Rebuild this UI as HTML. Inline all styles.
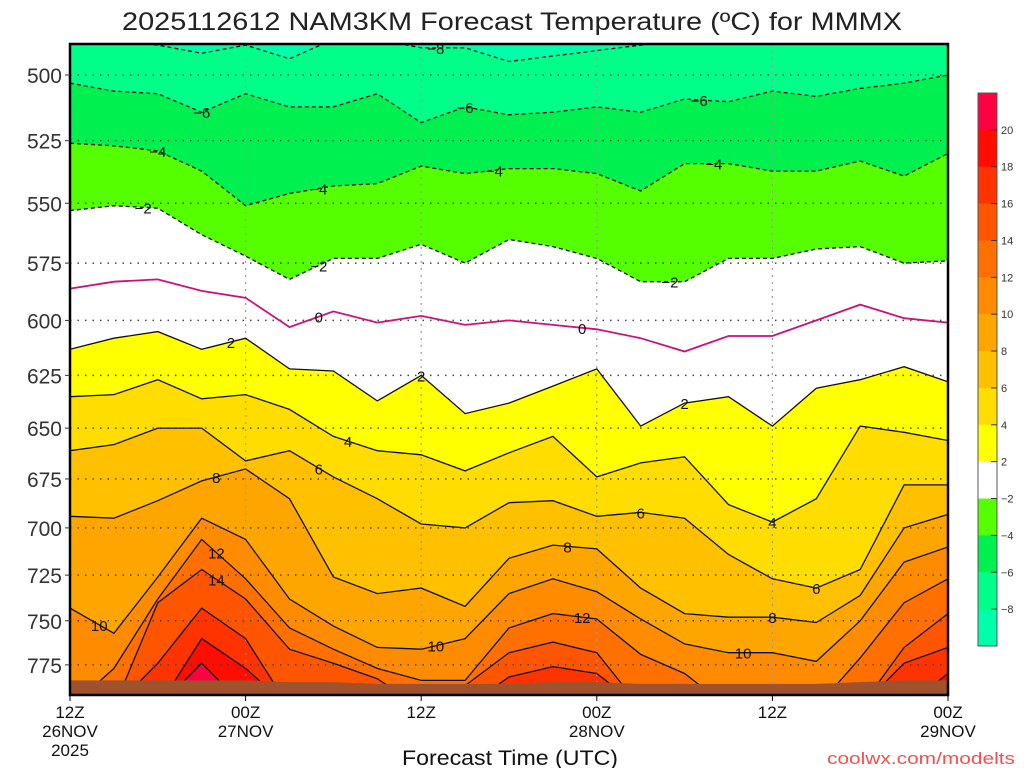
<!DOCTYPE html>
<html><head><meta charset="utf-8"><title>NAM3KM Forecast Temperature MMMX</title>
<style>
html,body{margin:0;padding:0;background:#fff;}
svg{display:block;font-family:"Liberation Sans",sans-serif;}
</style></head>
<body>
<svg id="chart" width="1024" height="768" viewBox="0 0 1024 768" xmlns="http://www.w3.org/2000/svg">
<defs><clipPath id="plotclip"><rect x="70" y="44" width="878" height="651"/></clipPath></defs>
<text x="512" y="30" text-anchor="middle" font-size="25" fill="#222" textLength="780" lengthAdjust="spacingAndGlyphs">2025112612 NAM3KM Forecast Temperature (ºC) for MMMX</text>
<g id="plot" clip-path="url(#plotclip)"></g>
<g id="overlay"></g>
<g id="yaxis"></g>
<g id="xaxis"></g>
<text x="510" y="765" text-anchor="middle" font-size="21" fill="#111" textLength="216" lengthAdjust="spacingAndGlyphs">Forecast Time (UTC)</text>
<text x="1015" y="764" text-anchor="end" font-size="17" fill="#f05050" textLength="188" lengthAdjust="spacingAndGlyphs">coolwx.com/modelts</text>
<g id="colorbar"></g>
</svg>
<script>
// ---- data ----
const hours = [0,3,6,9,12,15,18,21,24,27,30,33,36,39,42,45,48,51,54,57,60];
const levels = [-8,-6,-4,-2,0,2,4,6,8,10,12,14,16,18,20];
const isoM8 = [487,487,489,492,489,494,487,487,490,490,495,493,491,489,487,487,487,487,487,487,487];
const isoM6 = [503,506,507,514,507,512,512,507,518,512,515,514,512,514,509,510,506,508,505,503,500];
const isoM4 = [526,527,529,537,551,546,543,542,535,538,536,536,538,545,534,534,537,537,533,539,530];
const isoM2 = [553,551,552,563,572,582,573,573,567,575,565,568,573,583,583,573,573,569,568,575,574];
const iso0  = [586,583,582,587,590,603,596,601,598,602,600,602,604,608,614,607,607,600,593,599,601];
const iso2  = [613,608,605,613,608,622,623,637,625,643,638,630,622,649,638,635,649,631,627,621,628];
const iso4  = [635,634,627,636,634,641,654,661,663,671,662,654,674,667,664,688,697,685,649,652,656];
const iso6  = [661,658,650,650,666,661,674,685,698,700,687,686,694,692,695,714,727,732,722,678,678];
const iso8  = [694,695,686,676,670,685,726,735,732,742,716,709,711,732,746,748,748,751,736,700,693];
const iso10 = [743,757,726,695,706,738,753,765,766,760,735,727,734,749,763,768,768,773,750,718,710];
const iso12 = [800,777,738,706,727,754,766,777,784,784,754,746,749,769,780,800,800,800,771,740,727];
const iso14 = [800,800,740,722,738,766,774,783,800,787,768,762,768,800,800,800,800,800,800,765,746];
const iso16 = [800,800,774,743,760,800,800,800,800,800,782,776,780,800,800,800,800,800,800,774,765];
const iso18 = [800,800,800,760,777,800,800,800,800,800,800,800,800,800,800,800,800,800,800,800,780];
const iso20 = [800,800,800,774,800,800,800,800,800,800,800,800,800,800,800,800,800,800,800,800,800];
const groundTop = [784,784,784,784,784,785,785,786,786,786,786,785,785,786,786,786,786,786,785,784,784];
const pressureTicks = [500,525,550,575,600,625,650,675,700,725,750,775];
const timeTicks = [0,12,24,36,48,60];
const timeLabels = [["12Z","26NOV","2025"],["00Z","27NOV"],["12Z"],["00Z","28NOV"],["12Z"],["00Z","29NOV"]];
const labelLevels = [-8,-6,-6,-6,-4,-4,-4,-4,-2,-2,-2,0,0,2,2,2,4,4,6,6,6,8,8,8,10,10,10,12,12,14];
const labelHours  = [25,9,27,43,6,17,29,44,5,17,41,17,35,11,24,42,19,48,17,39,51,10,34,48,2,25,46,10,35,10];
const cbarLevels = [20,18,16,14,12,10,8,6,4,2,-2,-4,-6,-8];

// ---- styling ----
const isoSeries = [isoM8,isoM6,isoM4,isoM2,iso0,iso2,iso4,iso6,iso8,iso10,iso12,iso14,iso16,iso18,iso20];
const bandColor = ["#00ff88","#00f050","#55ff00","#ffffff","#ffffff","#ffff00","#ffdd00","#ffc000","#ffa500","#ff8c00","#ff7000","#ff5500","#ff3300","#ff0d00","#ff0040"];
const coldColor = "#00ffaa";
const cbarColors = ["#ff0040","#ff0d00","#ff3300","#ff5500","#ff7000","#ff8c00","#ffa500","#ffc000","#ffdd00","#ffff00","#ffffff","#55ff00","#00f050","#00ff88","#00ffaa"];

const NS = "http://www.w3.org/2000/svg";
const X0=70, X1=948, Y0=44, Y1=695;
const xs = h => X0 + (h - hours[0]) / (hours[hours.length-1]-hours[0]) * (X1-X0);
const ys = p => 75 + 1346*Math.log(p/500);
function mk(tag, attrs, parent){const e=document.createElementNS(NS,tag);for(const k in attrs)e.setAttribute(k,attrs[k]);parent.appendChild(e);return e;}
function interp(arr,h){
  for(let i=0;i<hours.length-1;i++){if(h>=hours[i]&&h<=hours[i+1]){const t=(h-hours[i])/(hours[i+1]-hours[i]);return arr[i]+(arr[i+1]-arr[i])*t;}}
  return arr[arr.length-1];
}
const plot=document.getElementById('plot');
const bg=mk('rect',{x:X0,y:Y0,width:X1-X0,height:Y1-Y0,fill:coldColor},plot);



// bands (painter order, coldest to warmest)
isoSeries.forEach((arr,li)=>{
  let d='M'+xs(hours[0])+','+(Y1+20);
  arr.forEach((p,i)=>{d+=' L'+xs(hours[i]).toFixed(1)+','+ys(p).toFixed(1);});
  d+=' L'+xs(hours[hours.length-1])+','+(Y1+20)+' Z';
  const e=mk('path',{d:d,fill:bandColor[li],stroke:'none'},plot);
  
  
});
// grid
pressureTicks.forEach(p=>{
  const g=mk('line',{x1:X0,x2:X1,y1:ys(p),y2:ys(p),stroke:'#444','stroke-width':1.5,'stroke-dasharray':'1.5 6'},plot);
  
  
});
timeTicks.slice(1,-1).forEach(h=>{
  const g=mk('line',{x1:xs(h),x2:xs(h),y1:Y0,y2:Y1,stroke:'#999','stroke-width':1.2,'stroke-dasharray':'2 5'},plot);
  
  
});
// contour lines
isoSeries.forEach((arr,li)=>{
  const lv=levels[li];
  const pts=arr.map((p,i)=>xs(hours[i]).toFixed(1)+','+ys(p).toFixed(1)).join(' ');
  const attrs={points:pts,fill:'none',stroke:lv===0?'#cc1177':'#111','stroke-width':lv===0?1.8:1.3};
  if(lv<0) attrs['stroke-dasharray']='4 3';
  const e=mk('polyline',attrs,plot);
  
  
});
// contour labels
labelLevels.forEach((lv,i)=>{
  const arr=isoSeries[levels.indexOf(lv)];
  const h=labelHours[i];
  const x=xs(h), y=ys(interp(arr,h));
  if(y>Y1-12) return;
  const t=mk('text',{x:x,y:y+6,'text-anchor':'middle','font-size':15,fill:'#111'},plot);
  t.textContent=lv<0?'\u2212'+Math.abs(lv):String(lv);
  
  
});
// ground
let gd='M'+X0+','+(Y1+5);
groundTop.forEach((p,i)=>{gd+=' L'+xs(hours[i]).toFixed(1)+','+ys(p).toFixed(1);});
gd+=' L'+X1+','+(Y1+5)+' Z';
const gr=mk('path',{d:gd,fill:'#a0522d'},plot);



// frame
const ov=document.getElementById('overlay');
const fr=mk('rect',{x:X0,y:Y0,width:X1-X0,height:Y1-Y0,fill:'none',stroke:'#000','stroke-width':2.5},ov);



// y axis
const ya=document.getElementById('yaxis');
pressureTicks.forEach(p=>{
  const t=mk('text',{x:62,y:ys(p)+8,'text-anchor':'end','font-size':21,fill:'#333'},ya);
  t.textContent=p;
  
  
  const tk=mk('line',{x1:X0-5,x2:X0,y1:ys(p),y2:ys(p),stroke:'#333','stroke-width':1},ya);
  
  
});
// x axis
const xa=document.getElementById('xaxis');
timeTicks.forEach((h,i)=>{
  const tk=mk('line',{x1:xs(h),x2:xs(h),y1:Y1,y2:Y1+6,stroke:'#000','stroke-width':1},xa);
  
  
  timeLabels[i].forEach((s,j)=>{
    const t=mk('text',{x:xs(h),y:718+j*19,'text-anchor':'middle','font-size':17,fill:'#111'},xa);
    t.textContent=s;
    
    
  });
});
// colorbar
const cb=document.getElementById('colorbar');
const CY0=93, CH=553, n=cbarColors.length, bh=CH/n;
cbarColors.forEach((c,i)=>{
  const r=mk('rect',{x:978,y:CY0+i*bh,width:19,height:bh+0.5,fill:c},cb);
  
  
});
const cbf=mk('rect',{x:978,y:CY0,width:19,height:CH,fill:'none',stroke:'#555','stroke-width':1},cb);


cbarLevels.forEach((lv,i)=>{
  const y=CY0+(i+1)*bh;
  const tk=mk('line',{x1:991,x2:997,y1:y,y2:y,stroke:'#333','stroke-width':1},cb);
  
  
  const t=mk('text',{x:1001,y:y+4,'font-size':11,fill:'#333'},cb);
  t.textContent=lv<0?'\u2212'+Math.abs(lv):String(lv);
  
  
});
</script>
</body></html>
